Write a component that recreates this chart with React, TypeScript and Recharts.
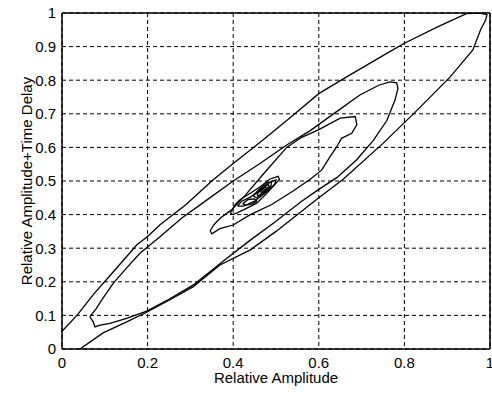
import React from 'react';
import { ScatterChart, Scatter, XAxis, YAxis, CartesianGrid, ReferenceLine } from 'recharts';

// Axis ticks
const xTicks = [0, 0.2, 0.4, 0.6, 0.8, 1];
const yTicks = [0, 0.1, 0.2, 0.3, 0.4, 0.5, 0.6, 0.7, 0.8, 0.9, 1];
const xTickLabels = ['0', '0.2', '0.4', '0.6', '0.8', '1'];
const yTickLabels = ['0', '0.1', '0.2', '0.3', '0.4', '0.5', '0.6', '0.7', '0.8', '0.9', '1'];

// Contour lines, as [relative amplitude, relative amplitude + time delay] pairs
const level1: [number, number][] = [
  [0.042, 0.0], [0.096, 0.048], [0.15, 0.08], [0.199, 0.11], [0.25, 0.145], [0.306, 0.185],
  [0.369, 0.25], [0.44, 0.295], [0.5, 0.35], [0.56, 0.41], [0.6, 0.45], [0.657, 0.505],
  [0.75, 0.612], [0.83, 0.711], [0.907, 0.81], [0.96, 0.89], [0.978, 0.95], [0.99, 0.98],
  [0.993, 0.995], [0.975, 1.0], [0.945, 0.998], [0.88, 0.96], [0.8, 0.91], [0.766, 0.885],
  [0.665, 0.81], [0.6, 0.76], [0.53, 0.685], [0.463, 0.615], [0.4, 0.552], [0.35, 0.5],
  [0.29, 0.43], [0.229, 0.37], [0.2, 0.335], [0.175, 0.31], [0.12, 0.23], [0.075, 0.165],
  [0.035, 0.1], [0.0, 0.053],
];

const level2: [number, number][] = [
  [0.065, 0.096], [0.08, 0.12], [0.093, 0.146], [0.12, 0.196], [0.15, 0.24], [0.182, 0.285],
  [0.229, 0.334], [0.28, 0.39], [0.338, 0.443], [0.4, 0.5], [0.46, 0.55], [0.525, 0.607],
  [0.58, 0.65], [0.64, 0.705], [0.696, 0.756], [0.74, 0.785], [0.766, 0.795], [0.782, 0.792],
  [0.785, 0.775], [0.778, 0.741], [0.759, 0.68], [0.727, 0.62], [0.688, 0.5625], [0.642, 0.51],
  [0.6, 0.475], [0.56, 0.44], [0.5, 0.38], [0.44, 0.324], [0.38, 0.265], [0.306, 0.19],
  [0.25, 0.148], [0.198, 0.113], [0.151, 0.091], [0.112, 0.076], [0.089, 0.071], [0.077, 0.066],
  [0.073, 0.081], [0.065, 0.096],
];

const level3: [number, number][] = [
  [0.346, 0.352], [0.355, 0.37], [0.37, 0.39], [0.396, 0.414], [0.43, 0.46], [0.47, 0.52],
  [0.525, 0.6], [0.56, 0.63], [0.599, 0.652], [0.65, 0.687], [0.685, 0.692], [0.689, 0.668],
  [0.677, 0.642], [0.653, 0.627], [0.642, 0.602], [0.626, 0.572], [0.607, 0.533], [0.58, 0.505],
  [0.54, 0.47], [0.49, 0.43], [0.439, 0.399], [0.4, 0.369], [0.369, 0.358], [0.35, 0.343],
  [0.346, 0.352],
];

const level4: [number, number][] = [
  [0.393, 0.404], [0.405, 0.43], [0.416, 0.444], [0.439, 0.463], [0.463, 0.483], [0.486, 0.506],
  [0.505, 0.514], [0.508, 0.505], [0.478, 0.463], [0.455, 0.434], [0.424, 0.414], [0.4, 0.4],
  [0.393, 0.404],
];

const level5: [number, number][] = [
  [0.41, 0.425], [0.42, 0.44], [0.44, 0.452], [0.465, 0.475], [0.49, 0.5], [0.5, 0.503],
  [0.497, 0.49], [0.475, 0.465], [0.45, 0.44], [0.425, 0.425], [0.41, 0.425],
];

const level6a: [number, number][] = [
  [0.422, 0.432], [0.435, 0.445], [0.45, 0.447], [0.455, 0.44], [0.445, 0.432], [0.43, 0.428],
  [0.422, 0.432],
];

const level6b: [number, number][] = [
  [0.447, 0.455], [0.46, 0.475], [0.48, 0.495], [0.49, 0.497], [0.488, 0.485], [0.47, 0.462],
  [0.455, 0.45], [0.447, 0.455],
];

const level7: [number, number][] = [
  [0.455, 0.46], [0.468, 0.478], [0.482, 0.49], [0.484, 0.484], [0.47, 0.466], [0.458, 0.456],
  [0.455, 0.46],
];

const level8: [number, number][] = [
  [0.463, 0.468], [0.475, 0.482], [0.478, 0.479], [0.467, 0.466], [0.463, 0.468],
];

const contours = [level1, level2, level3, level4, level5, level6a, level6b, level7, level8];

const toPoints = (pairs: [number, number][]) => pairs.map(([x, y]) => ({ x, y }));

const FONT = "'Liberation Sans', Arial, Helvetica, sans-serif";
const tickStyle = { fill: '#000', fontSize: 15, fontFamily: FONT };

const NoDot = () => <g />;

const XTitle = (props: any) => {
  const vb = props.viewBox ?? { x: 62, y: 349, width: 428, height: 45 };
  return (
    <text x={vb.x + vb.width / 2} y={vb.y + 34} textAnchor="middle" fill="#000" fontSize={15} fontFamily={FONT}>
      Relative Amplitude
    </text>
  );
};

const YTitle = (props: any) => {
  const vb = props.viewBox ?? { x: 20, y: 13, width: 42, height: 336 };
  const cx = vb.x + 11.5;
  const cy = vb.y + vb.height / 2;
  return (
    <text x={cx} y={cy} transform={`rotate(-90 ${cx} ${cy})`} textAnchor="middle" fill="#000" fontSize={15} fontFamily={FONT}>
      Relative Amplitude+Time Delay
    </text>
  );
};

export default function App() {
  return (
    <div style={{ position: 'absolute', left: 0, top: 0, width: 492, height: 394, background: '#fff' }}>
      <ScatterChart width={492} height={394} margin={{ top: 13, right: 2, bottom: 0, left: 20 }}>
        <CartesianGrid stroke="#000" strokeWidth={1} strokeDasharray="4 3" />
        <XAxis
          type="number"
          dataKey="x"
          domain={[0, 1]}
          ticks={xTicks}
          tickFormatter={(v: number) => xTickLabels[xTicks.indexOf(v)] ?? String(v)}
          allowDataOverflow
          height={45}
          tickLine={false}
          tickSize={0}
          tickMargin={8}
          interval={0}
          axisLine={{ stroke: '#000', strokeWidth: 1.5 }}
          tick={tickStyle}
          label={{ content: (p: any) => <XTitle {...p} /> }}
        />
        <YAxis
          type="number"
          dataKey="y"
          domain={[0, 1]}
          ticks={yTicks}
          tickFormatter={(v: number) => yTickLabels[yTicks.indexOf(v)] ?? String(v)}
          allowDataOverflow
          width={42}
          tickLine={false}
          tickSize={0}
          tickMargin={6}
          interval={0}
          axisLine={{ stroke: '#000', strokeWidth: 1.5 }}
          tick={tickStyle}
          label={{ content: (p: any) => <YTitle {...p} /> }}
        />
        <ReferenceLine x={1} stroke="#000" strokeWidth={1.5} />
        <ReferenceLine y={1} stroke="#000" strokeWidth={1.5} />
        {contours.map((c, i) => (
          <Scatter
            key={i}
            data={toPoints(c)}
            line={{ stroke: '#000', strokeWidth: 1.3, fill: 'none' }}
            lineType="joint"
            shape={NoDot}
            isAnimationActive={false}
          />
        ))}
      </ScatterChart>
    </div>
  );
}
